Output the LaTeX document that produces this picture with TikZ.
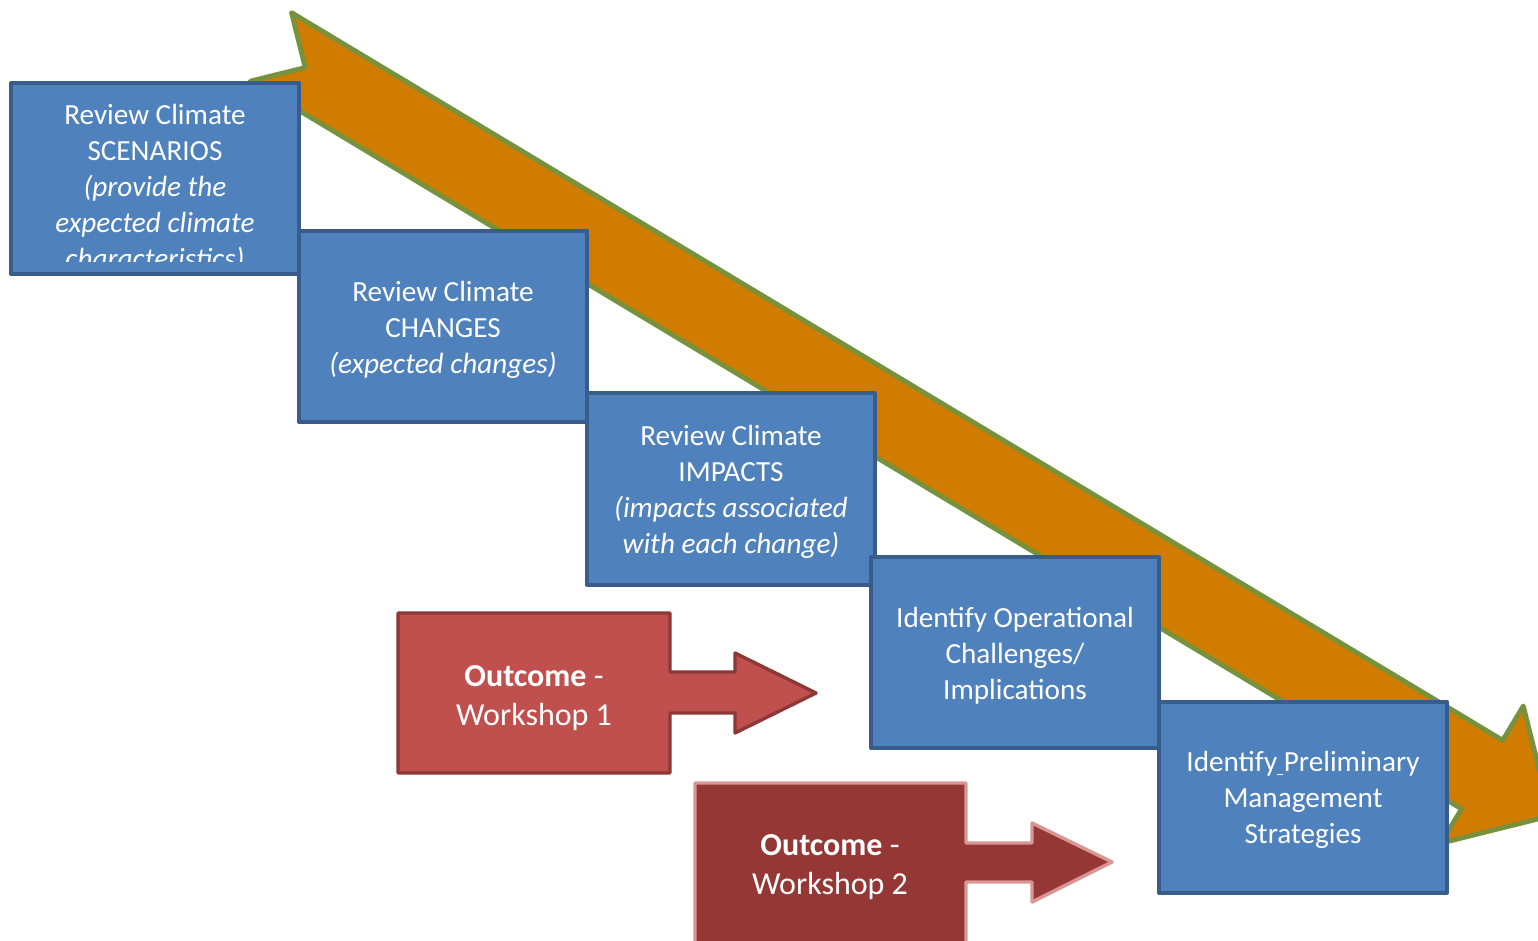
\documentclass[tikz,border=0pt]{standalone}
\usepackage{fontspec}
\setmainfont{Carlito}
\definecolor{orangeF}{RGB}{208,124,0}
\definecolor{oliveL}{RGB}{118,146,60}
\definecolor{blueF}{RGB}{79,129,189}
\definecolor{blueL}{RGB}{56,93,138}
\definecolor{redF}{RGB}{192,80,77}
\definecolor{redL}{RGB}{140,56,54}
\definecolor{dredF}{RGB}{149,55,53}
\definecolor{pinkL}{RGB}{217,150,148}
\begin{document}
\begin{tikzpicture}[x=0.5pt,y=-0.5pt,line join=round,
  bluebox/.style={draw=blueL,fill=blueF,line width=2pt,minimum width=144pt,minimum height=95.5pt,inner sep=0pt},
  bluetext/.style={text=white,align=center,inner sep=0pt,font=\fontsize{14.6}{18}\selectfont},
  redtext/.style={text=white,align=center,inner sep=0pt,font=\fontsize{16}{19.5}\selectfont}]
\useasboundingbox (0,0) rectangle (1538,941);
\clip (0,0) rectangle (1538,941);
% big notched arrow
\draw[fill=orangeF,draw=oliveL,line width=2.4pt]
  (291.5,12.6) -- (1502.7,740.3) -- (1523.3,706.0) -- (1550.7,815.8)
  -- (1440.9,843.2) -- (1461.5,808.9) -- (250.3,81.2) -- (305.2,67.5) -- cycle;
% step boxes
\node[bluebox] (b1) at (155,178.5) {};
\begin{scope}
  \clip (12,84) rectangle (298,262);
  \node[bluetext] (t1) at (155,188) {Review Climate\\SCENARIOS\\\textit{(provide the}\\\textit{expected climate}\\\textit{characteristics)}};
\end{scope}
\node[bluebox] (b2) at (443,326.5) {};
\node[bluetext] (t2) at ([yshift=-1.6pt]b2.center) {Review Climate\\CHANGES\\\textit{(expected changes)}};
\node[bluebox] (b3) at (731,489) {};
\node[bluetext] (t3) at ([yshift=-1.6pt]b3.center) {Review Climate\\IMPACTS\\\textit{(impacts associated}\\\textit{with each change)}};
\node[bluebox] (b4) at (1015,652.5) {};
\node[bluetext] (t4) at ([yshift=-1.6pt]b4.center) {Identify Operational\\Challenges/\\Implications};
\node[bluebox] (b5) at (1303,797) {};
\node[bluetext] (t5) at ([yshift=-1.6pt]b5.center) {Identify\makebox[0pt][l]{\rule[-1.6pt]{3pt}{0.6pt}} Preliminary\\Management\\Strategies};
% outcome arrows
\draw[fill=redF,draw=redL,line width=1.7pt]
  (398,613) -- (670,613) -- (670,672) -- (735,672) -- (735,653) -- (816,693)
  -- (735,733) -- (735,713) -- (670,713) -- (670,773) -- (398,773) -- cycle;
\node[redtext] (o1) at (534,698) {\textbf{Outcome} -\\Workshop 1};
\draw[fill=dredF,draw=pinkL,line width=1.7pt]
  (695,783) -- (966,783) -- (966,843) -- (1032,843) -- (1032,823) -- (1112,862)
  -- (1032,902) -- (1032,882) -- (966,882) -- (966,960) -- (695,960) -- cycle;
\node[redtext] (o2) at (830,867) {\textbf{Outcome} -\\Workshop 2};
\end{tikzpicture}
\end{document}
